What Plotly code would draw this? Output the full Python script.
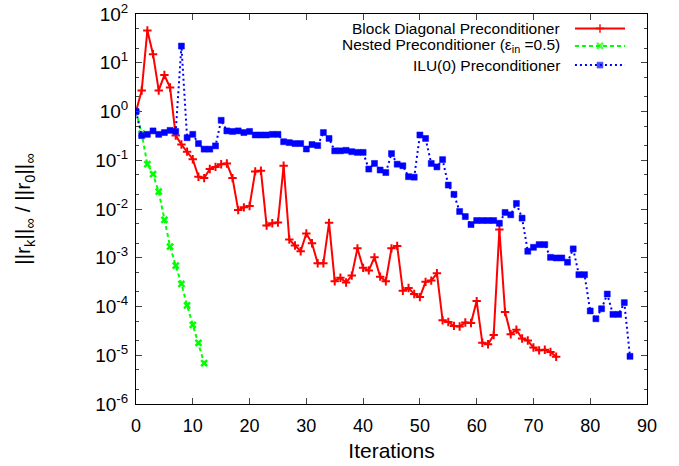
import plotly.graph_objects as go

# ---- data ----
block_diag = [1.0, 2.7, 46, 15, 2.7, 5.6, 3.1, 0.32, 0.21, 0.15,
              0.105, 0.046, 0.043, 0.066, 0.073, 0.083, 0.086, 0.043, 0.0095, 0.0108,
              0.0115, 0.059, 0.061, 0.0046, 0.0051, 0.0053, 0.077, 0.00236, 0.00178, 0.00136,
              0.00316, 0.00198, 0.00077, 0.00077, 0.0052, 3.3e-4, 3.9e-4, 3.1e-4, 4.3e-4, 1.56e-3,
              6.2e-4, 5.5e-4, 1.02e-3, 4.1e-4, 3.3e-4, 1.56e-3, 1.75e-3, 2.1e-4, 2.4e-4, 1.8e-4,
              1.56e-4, 3.2e-4, 3.4e-4, 4.8e-4, 5.2e-5, 4.8e-5, 4.0e-5, 3.9e-5, 4.7e-5, 4.6e-5,
              1.29e-4, 1.8e-5, 1.68e-5, 2.6e-5, 3.8e-3, 7.7e-5, 2.7e-5, 3.35e-5, 2.2e-5, 2.0e-5,
              1.44e-5, 1.26e-5, 1.3e-5, 1.17e-5, 9.3e-6]
nested = [1.0, 0.35, 0.083, 0.052, 0.0226, 0.006, 0.0017, 6.9e-4, 2.9e-4, 1.05e-4,
          4.2e-5, 1.8e-5, 6.9e-6]
ilu0 = [1.0, 0.32, 0.34, 0.40, 0.34, 0.37, 0.41, 0.39, 22, 0.29,
        0.34, 0.22, 0.169, 0.169, 0.197, 0.66, 0.40, 0.39, 0.40, 0.37,
        0.39, 0.33, 0.33, 0.33, 0.34, 0.34, 0.24, 0.23, 0.22, 0.22,
        0.17, 0.21, 0.20, 0.37, 0.28, 0.156, 0.156, 0.16, 0.15, 0.145,
        0.145, 0.066, 0.086, 0.063, 0.056, 0.137, 0.083, 0.077, 0.046, 0.045,
        0.33, 0.28, 0.086, 0.073, 0.103, 0.031, 0.020, 0.0089, 0.0070, 0.0048,
        0.0058, 0.0058, 0.0058, 0.0058, 0.0051, 0.0085, 0.0076, 0.013, 0.0065, 0.00136,
        0.00164, 0.00186, 0.00186, 0.00102, 0.00099, 0.00099, 0.00081, 0.00152, 0.00045, 0.00045,
        8.1e-5, 5.6e-5, 9.0e-5, 1.8e-4, 6.9e-5, 6.9e-5, 1.2e-4, 9.5e-6]

series_names = ["Block Diagonal Preconditioner",
                "Nested Preconditioner (ε<sub>in</sub> =0.5)",
                "ILU(0) Preconditioner"]
x_ticks = [0, 10, 20, 30, 40, 50, 60, 70, 80, 90]
y_exponents = [-6, -5, -4, -3, -2, -1, 0, 1, 2]
y_major = [10.0 ** e for e in y_exponents]
y_ticktext = ["10<sup>%d</sup>" % e for e in y_exponents]
y_minor = [m * 10.0 ** e for e in range(-6, 2) for m in (2, 5)]

FONT = "Liberation Sans, Arial, sans-serif"
styles = [
    dict(color="#ff0000", dash="solid", symbol="cross-thin", size=6, mlw=2),
    dict(color="#00ff00", dash="4px,3px", symbol="x-thin", size=6, mlw=2.5),
    dict(color="#0000ff", dash="2px,3px", symbol="square", size=6, mlw=0.5),
]
data = [block_diag, nested, ilu0]

fig = go.Figure()
for vals, st, name in zip(data, styles, series_names):
    fig.add_trace(go.Scatter(
        x=list(range(len(vals))), y=vals, mode="lines+markers", name=name,
        line=dict(color=st["color"], width=2, dash=st["dash"]),
        marker=dict(symbol=st["symbol"], size=st["size"], color=st["color"],
                    line=dict(color=st["color"], width=st["mlw"])),
        showlegend=False, cliponaxis=True))

# custom gnuplot-style legend (text left, sample right)
rows_y = [0.963, 0.918, 0.869]
for name, st, ry in zip(series_names, styles, rows_y):
    fig.add_trace(go.Scatter(
        x=[0.859, 0.908, 0.957], y=[ry, ry, ry], xaxis="x2", yaxis="y2",
        mode="lines+markers", showlegend=False, hoverinfo="skip",
        line=dict(color=st["color"], width=2, dash=st["dash"]),
        marker=dict(symbol=st["symbol"], size=[0, st["size"], 0], color=st["color"],
                    line=dict(color=st["color"], width=st["mlw"]))))
    fig.add_annotation(xref="paper", yref="paper", x=0.834, y=ry, xanchor="right",
                       yanchor="middle", text=name, showarrow=False,
                       font=dict(family=FONT, size=15.5, color="black"))

fig.update_layout(
    width=679, height=466,
    margin=dict(l=136, r=32, t=14, b=62),
    paper_bgcolor="white", plot_bgcolor="white",
    font=dict(family=FONT, color="black"),
    xaxis=dict(range=[0, 90], tickvals=x_ticks, ticks="inside", ticklen=6,
               tickcolor="#444", mirror="ticks", showline=True, linecolor="black",
               linewidth=1, showgrid=False, zeroline=False, ticklabelstandoff=5,
               automargin=False,
               tickfont=dict(size=18), title=dict(text="Iterations", font=dict(size=21), standoff=8)),
    yaxis=dict(type="log", range=[-6, 2], tickvals=y_major, ticktext=y_ticktext,
               ticks="inside", ticklen=6, tickcolor="#444", mirror="ticks",
               showline=True, linecolor="black", linewidth=1, showgrid=False,
               zeroline=False, tickfont=dict(size=19), ticklabelstandoff=3,
               automargin=False,
               minor=dict(tickvals=y_minor, ticks="inside", ticklen=3, tickcolor="#444"),
               title=dict(text="||r<sub>k</sub>||<sub>∞</sub> / ||r<sub>0</sub>||<sub>∞</sub>",
                          font=dict(size=21), standoff=58)),
    xaxis2=dict(overlaying="x", range=[0, 1], visible=False, fixedrange=True),
    yaxis2=dict(overlaying="y", range=[0, 1], visible=False, fixedrange=True),
)

fig.write_html("out.html")
